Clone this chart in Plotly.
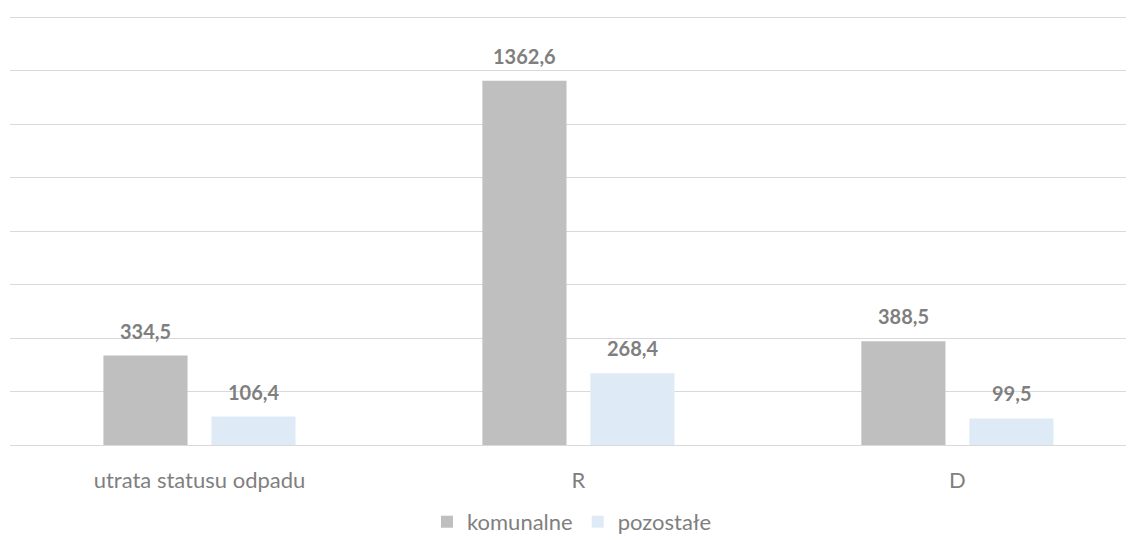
import plotly.graph_objects as go

categories = ["utrata statusu odpadu", "R", "D"]
komunalne = [334.5, 1362.6, 388.5]
pozostale = [106.4, 268.4, 99.5]
series_names = ["komunalne", "pozostałe"]
colors = ["#bfbfbf", "#deebf7"]
grid_values = [200, 400, 600, 800, 1000, 1200, 1400, 1600]

BAR_W = 0.222
OFFS = [-0.1425, 0.1425]
FONT = "Lato, Open Sans, sans-serif"

def fmt(v):
    return f"{v:.1f}".replace(".", ",")

idx = list(range(len(categories)))
fig = go.Figure()
annotations = []
for name, vals, col, off in zip(series_names, [komunalne, pozostale], colors, OFFS):
    fig.add_trace(go.Bar(
        x=[i + off for i in idx], y=vals, name=name,
        width=BAR_W, marker=dict(color=col, line=dict(width=0)),
        hoverinfo="skip",
    ))
    for i, v in zip(idx, vals):
        annotations.append(dict(
            x=i + off, y=v, xref="x", yref="y", text=f"<b>{fmt(v)}</b>",
            showarrow=False, yanchor="bottom", yshift=11,
            font=dict(family=FONT, size=20, color="#7f7f7f"),
        ))

fig.update_layout(
    width=1126, height=532,
    margin=dict(l=2, r=0, t=4, b=95, autoexpand=False),
    plot_bgcolor="white", paper_bgcolor="white",
    showlegend=True,
    legend=dict(orientation="h", x=0.5, xanchor="center",
                yref="container", y=0.034, yanchor="middle",
                font=dict(family=FONT, size=22, color="#7f7f7f"),
                itemwidth=30, traceorder="normal"),
    annotations=annotations,
    xaxis=dict(range=[-0.5, 2.466], tickvals=idx, ticktext=categories,
               showgrid=False, zeroline=False, showline=False, ticks="",
               ticklabelstandoff=20, automargin=False,
               tickfont=dict(family=FONT, size=22, color="#7f7f7f")),
    yaxis=dict(range=[0, 1620], tickvals=grid_values, automargin=False,
               showticklabels=False, showgrid=True,
               gridcolor="#d9d9d9", gridwidth=1.3, zeroline=True, zerolinecolor="#d9d9d9",
               zerolinewidth=1.3, ticks=""),
    font=dict(family=FONT),
)
fig.write_html("out.html")
